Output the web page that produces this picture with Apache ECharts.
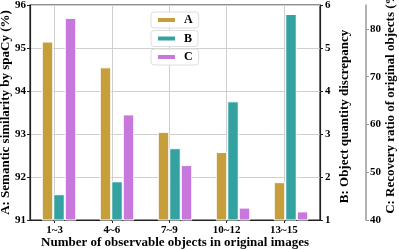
<!DOCTYPE html>
<html><head><meta charset="utf-8">
<script src="https://cdn.jsdelivr.net/npm/echarts@6/dist/echarts.min.js"></script>
<style>html,body{margin:0;padding:0;background:#fff}#c{width:399px;height:250px}</style>
</head><body><div id="c"></div>
<script>
var categories = ['1~3', '4~6', '7~9', '10~12', '13~15'];
var seriesA = [95.15, 94.55, 93.05, 92.58, 91.88];
var seriesB = [1.60, 1.90, 2.67, 3.76, 5.79];
var seriesC = [82.3, 62.1, 51.5, 42.6, 41.8];
var ticksA = [91, 96, 1];
var ticksB = [1, 6, 1];
var ticksC = [40, 85, 10];

var F = '"Liberation Serif", "Times New Roman", serif';
var chart = echarts.init(document.getElementById('c'), null, {renderer: 'canvas'});
var lbl = {fontFamily: F, fontWeight: 'bold', fontSize: 11, color: '#000'};
var nameStyle = {fontFamily: F, fontWeight: 'bold', fontSize: 13, color: '#000'};
function legendBox(name, top) {
  return {
    data: [name], left: 151, top: top, orient: 'vertical',
    itemWidth: 19, itemHeight: 6, itemGap: 0,
    padding: [2, 6, 2, 5], borderColor: '#ddd', borderWidth: 1, borderRadius: 3,
    backgroundColor: 'rgba(255,255,255,0.9)',
    textStyle: {fontFamily: F, fontWeight: 'bold', fontSize: 12, color: '#000', padding: [0, 0, 0, 3]},
    icon: 'rect'
  };
}
var barCommon = {type: 'bar', barWidth: 11.5, barGap: '0%', xAxisIndex: 1};
chart.setOption({
  animation: false,
  grid: {left: 30, right: 79, top: 5, bottom: 30, outerBoundsMode: 'none', containLabel: false,
         show: true, borderColor: '#222', borderWidth: 1.2, backgroundColor: 'transparent'},
  legend: [legendBox('A', 12), legendBox('B', 30.5), legendBox('C', 49)],
  xAxis: [
    {type: 'value', min: -0.43, max: 4.63, position: 'bottom',
     axisLine: {show: true, onZero: false, lineStyle: {color: '#222', width: 1.2}},
     axisTick: {show: true, length: 3, lineStyle: {color: '#222'}},
     splitLine: {show: true, showMinLine: false, showMaxLine: false, lineStyle: {color: '#cfcfcf', width: 1}},
     axisLabel: Object.assign({}, lbl, {margin: 5, showMinLabel: false, showMaxLabel: false,
       formatter: function (v) { var r = Math.round(v); return (Math.abs(v - r) < 1e-6 && r >= 0 && r < categories.length) ? categories[r] : ''; }}),
     name: 'Number of observable objects in original images', nameLocation: 'middle', nameGap: 16,
     nameMoveOverlap: false, nameTextStyle: nameStyle},
    {type: 'category', data: categories, position: 'bottom', axisLabel: {show: false}, axisTick: {show: false},
     axisLine: {show: false, onZero: false}, splitLine: {show: false}}
  ],
  yAxis: [
    {type: 'value', min: ticksA[0], max: ticksA[1], interval: ticksA[2], position: 'left',
     axisLine: {show: true, onZero: false, lineStyle: {color: '#222', width: 1.2}},
     axisTick: {show: true, length: 3, lineStyle: {color: '#222'}},
     splitLine: {show: true, lineStyle: {color: '#cfcfcf', width: 1}},
     axisLabel: Object.assign({}, lbl, {margin: 4}),
     name: 'A: Semantic similarity by spaCy (%)', nameLocation: 'middle', nameGap: 18,
     nameMoveOverlap: false, nameTextStyle: nameStyle},
    {type: 'value', min: ticksB[0], max: ticksB[1], interval: ticksB[2], position: 'right',
     axisLine: {show: true, onZero: false, lineStyle: {color: '#222', width: 1.2}},
     axisTick: {show: true, length: 3, lineStyle: {color: '#222'}},
     splitLine: {show: false},
     axisLabel: Object.assign({}, lbl, {margin: 5}),
     name: 'B: Object quantity discrepancy', nameLocation: 'middle', nameGap: 18,
     nameMoveOverlap: false, nameTextStyle: Object.assign({}, nameStyle, {padding: [0, 8, 0, 0]})},
    {type: 'value', min: ticksC[0], max: ticksC[1], interval: ticksC[2], position: 'right', offset: 46,
     axisLine: {show: true, onZero: false, lineStyle: {color: '#999', width: 1.5}},
     axisTick: {show: true, length: 3, lineStyle: {color: '#999'}},
     splitLine: {show: false},
     axisLabel: Object.assign({}, lbl, {margin: 4, showMaxLabel: false,
       formatter: function (v) { return (v % 10 === 0) ? String(v) : ''; }}),
     name: 'C: Recovery ratio of original objects (%)', nameLocation: 'middle', nameGap: 18,
     nameMoveOverlap: false, nameTextStyle: Object.assign({}, nameStyle, {padding: [0, 0, 0, 24]})}
  ],
  series: [
    Object.assign({}, barCommon, {name: 'A', yAxisIndex: 0, data: seriesA, itemStyle: {color: '#C69E3C', borderColor: '#fff', borderWidth: 1}}),
    Object.assign({}, barCommon, {name: 'B', yAxisIndex: 1, data: seriesB, itemStyle: {color: '#33A2A0', borderColor: '#fff', borderWidth: 1}}),
    Object.assign({}, barCommon, {name: 'C', yAxisIndex: 2, data: seriesC, itemStyle: {color: '#C877DC', borderColor: '#fff', borderWidth: 1}})
  ]
});
</script></body></html>
